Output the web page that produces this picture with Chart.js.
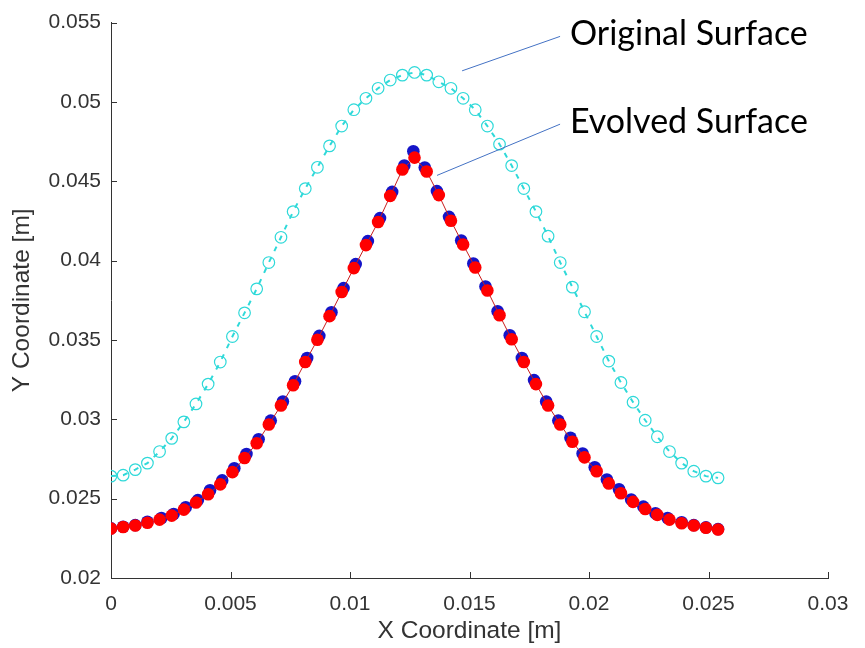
<!DOCTYPE html>
<html>
<head>
<meta charset="utf-8">
<script src="https://cdn.jsdelivr.net/npm/chart.js@4.4.0/dist/chart.umd.min.js"></script>
<style>
  body { margin: 0; background: #ffffff; }
  canvas { display: block; }
</style>
</head>
<body>
<canvas id="chartjs-0" width="865" height="648"></canvas>
<script>
// x positions of the surface nodes [m]
var nodeX = [0, 0.000508, 0.001016, 0.001524, 0.002032, 0.00254, 0.003048, 0.003556, 0.004064, 0.004572,
    0.00508, 0.005588, 0.006096, 0.006604, 0.007112, 0.00762, 0.008128, 0.008636, 0.009144, 0.009652,
    0.01016, 0.010668, 0.011176, 0.011684, 0.012192, 0.0127, 0.013208, 0.013716, 0.014224, 0.014732,
    0.01524, 0.015748, 0.016256, 0.016764, 0.017272, 0.01778, 0.018288, 0.018796, 0.019304, 0.019812,
    0.02032, 0.020828, 0.021336, 0.021844, 0.022352, 0.02286, 0.023368, 0.023876, 0.024384, 0.024892, 0.0254];

// original surface (cyan)
var originalY = [0.02642, 0.02648, 0.02683, 0.02724, 0.02797, 0.0288, 0.02984, 0.03097, 0.03222, 0.03361,
    0.03522, 0.03671, 0.03822, 0.03988, 0.04147, 0.04309, 0.04454, 0.04588, 0.04723, 0.04848,
    0.04951, 0.05023, 0.05086, 0.05138, 0.05169, 0.05186, 0.05169, 0.05127, 0.05086, 0.05023,
    0.04951, 0.04848, 0.04734, 0.04599, 0.04454, 0.04309, 0.04154, 0.03988, 0.03833, 0.03678,
    0.03522, 0.03367, 0.03232, 0.03108, 0.02994, 0.0289, 0.02797, 0.02724, 0.02673, 0.02642, 0.02631];

// evolved surface (red)
var evolvedY = [0.02311, 0.02321, 0.02331, 0.02348, 0.02368, 0.02393, 0.02431, 0.02476, 0.02528, 0.0259,
    0.02667, 0.02756, 0.02849, 0.02967, 0.03087, 0.03215, 0.03361, 0.03501, 0.0365, 0.03802,
    0.03953, 0.04098, 0.04243, 0.04408, 0.04574, 0.04649, 0.04562, 0.04413, 0.04251, 0.04102,
    0.03957, 0.03812, 0.03656, 0.03505, 0.03361, 0.03222, 0.03087, 0.02967, 0.02859, 0.0276,
    0.02673, 0.02596, 0.02534, 0.0248, 0.02435, 0.02398, 0.02368, 0.02345, 0.02331, 0.02317, 0.02306];

// second evolved set (blue, mostly hidden under red)
var blueX = [0, 0.000508, 0.001016, 0.001524, 0.002112, 0.00262, 0.003128, 0.003636, 0.004144, 0.004652,
    0.00516, 0.005668, 0.006176, 0.006684, 0.007192, 0.0077, 0.008208, 0.008716, 0.009224, 0.009732,
    0.01024, 0.010748, 0.011256, 0.011764, 0.012272, 0.01265, 0.013128, 0.013636, 0.014144, 0.014652,
    0.01516, 0.015668, 0.016176, 0.016684, 0.017192, 0.0177, 0.018208, 0.018716, 0.019224, 0.019732,
    0.02024, 0.020748, 0.021256, 0.021764, 0.022272, 0.02278, 0.023288, 0.023876, 0.024384, 0.024892, 0.0254];
var blueY = [0.02313, 0.02323, 0.02333, 0.02354, 0.02378, 0.02403, 0.02446, 0.02491, 0.02553, 0.02615,
    0.02692, 0.02781, 0.02874, 0.02992, 0.03112, 0.0324, 0.03386, 0.03526, 0.03675, 0.03827,
    0.03978, 0.04123, 0.04268, 0.04433, 0.04599, 0.04689, 0.04587, 0.04438, 0.04276, 0.04127,
    0.03982, 0.03837, 0.03681, 0.0353, 0.03386, 0.03247, 0.03112, 0.02992, 0.02884, 0.02785,
    0.02698, 0.02621, 0.02559, 0.02495, 0.0245, 0.02408, 0.02378, 0.02351, 0.02333, 0.02319, 0.02308];

var xTicks = [0, 0.005, 0.01, 0.015, 0.02, 0.025, 0.03];
var yTicks = [0.02, 0.025, 0.03, 0.035, 0.04, 0.045, 0.05, 0.055];

var labels = [
    { text: "Original Surface", x: 0.0192, y: 0.05431, fromX: 0.01879, fromY: 0.05413, toX: 0.01469, toY: 0.05196 },
    { text: "Evolved Surface", x: 0.0192, y: 0.04872, fromX: 0.01879, fromY: 0.0486, toX: 0.01364, toY: 0.04537 }
];

function points(xs, ys) {
    var out = [];
    for (var i = 0; i < ys.length; i++) {
        out.push({ x: xs[i], y: ys[i] });
    }
    return out;
}

function tickText(v) {
    return String(+v.toFixed(3));
}

Chart.defaults.font.family = "'Liberation Sans', Arial, sans-serif";
Chart.defaults.color = "#333333";

// MATLAB style ticks pointing into the plot + callout labels
var extras = {
    id: "extras",
    afterDraw: function(chart) {
        var ctx = chart.ctx;
        var xs = chart.scales.x;
        var ys = chart.scales.y;
        var area = chart.chartArea;
        ctx.save();
        ctx.strokeStyle = "#333333";
        ctx.lineWidth = 1;
        ctx.beginPath();
        for (var i = 0; i < xTicks.length; i++) {
            var px = Math.round(xs.getPixelForValue(xTicks[i])) + 0.5;
            ctx.moveTo(px, area.bottom);
            ctx.lineTo(px, area.bottom - 6);
        }
        for (var j = 0; j < yTicks.length; j++) {
            var py = Math.round(ys.getPixelForValue(yTicks[j])) + 0.5;
            ctx.moveTo(area.left, py);
            ctx.lineTo(area.left + 6, py);
        }
        ctx.stroke();

        ctx.strokeStyle = "#4472c4";
        ctx.lineWidth = 1;
        ctx.font = "34px Lato";
        ctx.fillStyle = "#000000";
        ctx.textBaseline = "middle";
        ctx.textAlign = "left";
        for (var k = 0; k < labels.length; k++) {
            var l = labels[k];
            ctx.beginPath();
            ctx.moveTo(xs.getPixelForValue(l.fromX), ys.getPixelForValue(l.fromY));
            ctx.lineTo(xs.getPixelForValue(l.toX), ys.getPixelForValue(l.toY));
            ctx.stroke();
            ctx.fillText(l.text, xs.getPixelForValue(l.x), ys.getPixelForValue(l.y));
        }
        ctx.restore();
    }
};

var ctx0 = document.getElementById("chartjs-0");
var myChart = new Chart(ctx0, {
    type: "scatter",
    data: {
        datasets: [
            {
                label: "Evolved",
                data: points(nodeX, evolvedY),
                showLine: true,
                borderColor: "#c81e1e",
                borderWidth: 1,
                pointRadius: 6.3,
                pointBackgroundColor: "#ff0000",
                pointBorderWidth: 0,
                order: 1
            },
            {
                label: "Evolved (blue)",
                data: points(blueX, blueY),
                showLine: false,
                pointRadius: 6.3,
                pointBackgroundColor: "#1414c8",
                pointBorderWidth: 0,
                order: 2
            },
            {
                label: "Original",
                data: points(nodeX, originalY),
                showLine: true,
                borderColor: "#2fd9d9",
                borderWidth: 2,
                borderDash: [5, 7],
                pointRadius: 5.8,
                pointBackgroundColor: "rgba(255,255,255,0)",
                pointBorderColor: "#2fd9d9",
                pointBorderWidth: 1.2,
                order: 3
            }
        ]
    },
    options: {
        responsive: false,
        animation: false,
        devicePixelRatio: 1,
        layout: { padding: { top: 15, right: 37, left: 0, bottom: 0 } },
        plugins: {
            legend: { display: false },
            tooltip: { enabled: false }
        },
        scales: {
            x: {
                type: "linear",
                min: 0,
                max: 0.03,
                afterFit: function(scale) { scale.height = 70; },
                afterBuildTicks: function(scale) {
                    scale.ticks = xTicks.map(function(v) { return { value: v }; });
                },
                grid: { drawOnChartArea: false, drawTicks: false },
                border: { color: "#333333", width: 1 },
                ticks: { padding: 14, font: { size: 21 }, callback: tickText, maxRotation: 0 },
                title: { display: true, text: "X Coordinate [m]", font: { size: 24.5 }, padding: { bottom: 2 } }
            },
            y: {
                type: "linear",
                min: 0.02,
                max: 0.055,
                afterFit: function(scale) { scale.width = 111; },
                afterBuildTicks: function(scale) {
                    scale.ticks = yTicks.map(function(v) { return { value: v }; });
                },
                grid: { drawOnChartArea: false, drawTicks: false },
                border: { color: "#333333", width: 1 },
                ticks: { padding: 10, font: { size: 21 }, callback: tickText },
                title: { display: true, text: "Y Coordinate [m]", font: { size: 24.5 }, padding: { top: 8 } }
            }
        }
    },
    plugins: [extras]
});
</script>
</body>
</html>
